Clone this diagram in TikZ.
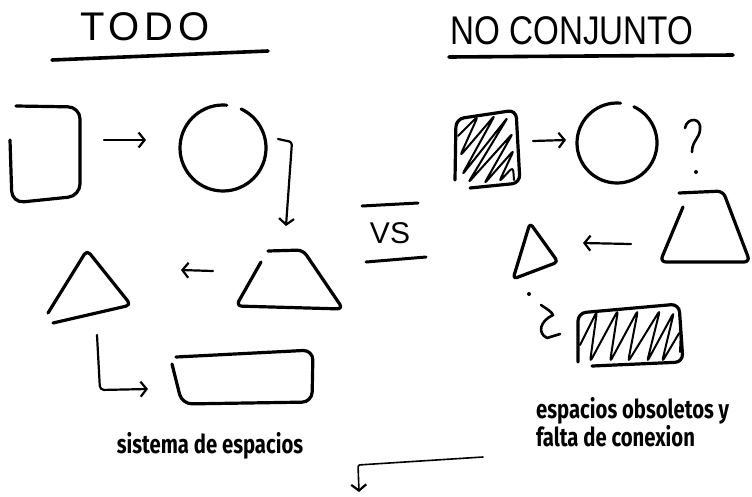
\documentclass[tikz,border=0pt]{standalone}
\usepackage{fontspec}
\setmainfont{Liberation Sans}
\newfontfamily\handfont{Fira Sans}
\usetikzlibrary{arrows.meta}
\begin{document}
\begin{tikzpicture}[x=1pt,y=-1pt,
  sk/.style={line width=3.2pt,line cap=round,line join=round},
  conn/.style={line width=2.2pt,line cap=round,line join=round,-{Straight Barb[length=6pt,width=15pt,line width=2.2pt]}},
  hatch/.style={line width=2pt,line cap=round,line join=round,rounded corners=4pt},
  uline/.style={line width=3.6pt,line cap=round},
  titleA/.style={inner sep=0pt,font=\fontsize{40}{40}\selectfont\addfontfeature{LetterSpace=12}},
  titleB/.style={inner sep=0pt,font=\fontsize{40}{40}\selectfont\addfontfeature{FakeStretch=0.83}},
  lab/.style={inner sep=0pt,font=\handfont\bfseries\fontsize{26}{22}\selectfont\addfontfeature{FakeStretch=0.78}}
]
\useasboundingbox (0,0) rectangle (752,496);

% titles
\node[titleA] (todo) at (145,27) {TODO};
\draw[uline] (52,60) -- (268,51);
\node[titleB] (nocon) at (572,31) {NO CONJUNTO};
\draw[uline] (449,57) -- (733,55);

% ---------- left panel: TODO ----------
% rounded rectangle
\draw[sk,rounded corners=12pt] (10,140) -- (12,203) -- (80,196) -- (80,107) -- (16,106);
% circle
\draw[sk] (223,148) ++(-85:43) arc[start angle=-85,end angle=-425,radius=43];
% trapezoid
\draw[sk,rounded corners=6pt] (261,262) -- (236,306) -- (343,309) -- (303,250) -- (268,251);
% triangle
\draw[sk,rounded corners=5pt] (48,313) -- (87,250) -- (131,305) -- (53,323);
% wide rectangle
\draw[sk,rounded corners=10pt] (172,364) -- (182,404) -- (312,402) -- (313,350) -- (176,357);

% connectors
\coordinate (l1s) at (104,140); \coordinate (l1e) at (146,140);
\draw[conn] (l1s) -- (l1e);
\coordinate (l2s) at (278,139); \coordinate (l2m) at (292,142); \coordinate (l2e) at (286,226);
\draw[conn,rounded corners=3pt] (l2s) -- (l2m) -- (l2e);
\coordinate (l3s) at (213,271); \coordinate (l3e) at (181,270);
\draw[conn] (l3s) -- (l3e);
\coordinate (l4s) at (97,335); \coordinate (l4m) at (100,390); \coordinate (l4e) at (148,389);
\draw[conn,rounded corners=4pt] (l4s) -- (l4m) -- (l4e);

\node[lab] (sis) at (210,446) {sistema de espacios};

% ---------- VS ----------
\draw[uline,line width=3pt] (362,206) -- (418,203);
\node[inner sep=0pt,font=\fontsize{30}{30}\selectfont] (vs) at (390,233) {VS};
\draw[uline,line width=3pt] (366,262) -- (426,257);

% ---------- right panel: NO CONJUNTO ----------
% hatched square
\draw[sk,rounded corners=8pt] (455,180) -- (456,119) -- (516,110) -- (520,183) -- (470,188);
\draw[hatch] (458,136) -- (478,116) -- (460,156) -- (495,115) -- (462,175) -- (508,117)
  -- (468,183) -- (513,133) -- (484,184) -- (514,150) -- (499,182) -- (513,167) -- (514,180);
% circle
\draw[sk] (617,143) ++(-85:40) arc[start angle=-85,end angle=-425,radius=40];
% question mark
\draw[sk,line width=2.6pt] (685,128) .. controls (687,117) and (702,117) .. (700,130)
  .. controls (699,139) and (692,141) .. (692,152);
\fill (696,172) circle (2pt);
% trapezoid
\draw[sk,rounded corners=6pt] (683,207) -- (660,262) -- (750,262) -- (723,191) -- (679,193);
% triangle
\draw[sk,rounded corners=4pt] (530,223) -- (513,279) -- (558,262) -- cycle;
% inverted question mark
\fill (529,294) circle (2pt);
\draw[sk,line width=2.6pt] (541,305) .. controls (547,309) and (552,312) .. (553,315)
  .. controls (540,321) and (537,333) .. (547,338) -- (560,334);
% hatched rectangle
\draw[sk,rounded corners=8pt] (578,362) -- (578,313) -- (679,304) -- (683,362) -- (592,366);
\draw[hatch] (580,345) -- (597,311) -- (590,362) -- (618,310) -- (610,362) -- (638,310)
  -- (628,362) -- (660,310) -- (647,362) -- (674,312) -- (662,362) -- (681,330) -- (680,352);

% connectors
\coordinate (r1s) at (533,141); \coordinate (r1e) at (566,140);
\draw[conn] (r1s) -- (r1e);
\coordinate (r2s) at (631,244); \coordinate (r2e) at (583,243);
\draw[conn] (r2s) -- (r2e);

\node[lab,anchor=north west,align=left] (obs) at (536,397) {espacios obsoletos y\\falta de conexion};

% bottom arrow
\coordinate (bs) at (483,457); \coordinate (bm) at (358,465); \coordinate (be) at (359,492);
\draw[conn,line width=1.6pt,rounded corners=2pt] (bs) -- (bm) -- (be);
\end{tikzpicture}
\end{document}
